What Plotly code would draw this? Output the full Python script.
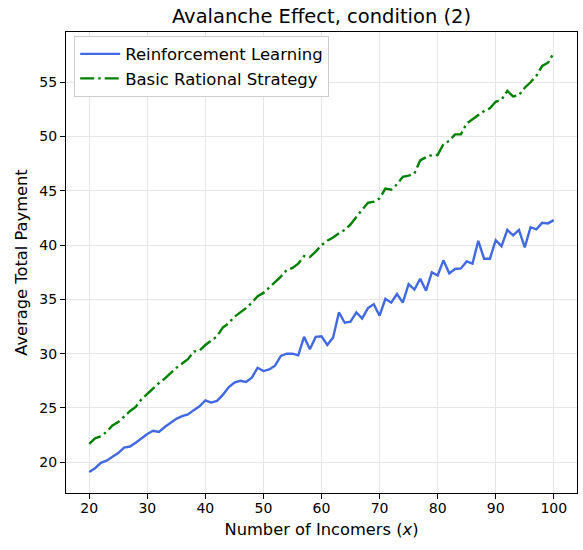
import plotly.graph_objects as go

x_vals = list(range(20, 101))

rl_payment = [
    19.1, 19.45, 19.95, 20.15, 20.5, 20.85, 21.35, 21.45, 21.8, 22.2,
    22.6, 22.9, 22.8, 23.25, 23.6, 24.0, 24.25, 24.4, 24.8, 25.15,
    25.7, 25.5, 25.65, 26.2, 26.9, 27.35, 27.5, 27.4, 27.8, 28.7,
    28.4, 28.55, 28.9, 29.8, 30.0, 30.0, 29.85, 31.55, 30.4, 31.55,
    31.6, 30.8, 31.5, 33.8, 32.85, 32.95, 33.8, 33.25, 34.2, 34.55,
    33.5, 35.05, 34.7, 35.5, 34.7, 36.4, 35.9, 36.9, 35.8, 37.5,
    37.2, 38.6, 37.4, 37.8, 37.85, 38.5, 38.3, 40.4, 38.75, 38.75,
    40.45, 39.9, 41.4, 40.9, 41.4, 39.8, 41.65, 41.45, 42.05, 42.0,
    42.3,
]

basic_payment = [
    21.7, 22.2, 22.4, 22.8, 23.4, 23.7, 24.2, 24.7, 25.1, 25.8,
    26.3, 26.8, 27.3, 27.7, 28.2, 28.7, 29.1, 29.5, 30.2, 30.3,
    30.8, 31.2, 31.6, 32.4, 32.8, 33.4, 33.8, 34.2, 34.7, 35.3,
    35.6, 36.1, 36.6, 37.1, 37.7, 37.9, 38.3, 39.0, 38.9, 39.4,
    40.0, 40.4, 40.7, 41.1, 41.4, 41.9, 42.6, 43.3, 43.9, 44.0,
    44.3, 45.2, 45.1, 45.6, 46.3, 46.4, 46.6, 47.8, 48.1, 48.3,
    48.3, 49.3, 49.6, 50.2, 50.2, 51.2, 51.6, 52.0, 52.35, 52.6,
    53.2, 53.4, 54.2, 53.7, 53.8, 54.5, 55.0, 55.6, 56.5, 56.8,
    57.7,
]

x_ticks = [20, 30, 40, 50, 60, 70, 80, 90, 100]
y_ticks = [20, 25, 30, 35, 40, 45, 50, 55]

FONT = "DejaVu Sans"
W, H = 583, 550

fig = go.Figure()
fig.add_trace(go.Scatter(
    x=x_vals, y=rl_payment, mode="lines", name="Reinforcement Learning",
    line=dict(color="#4169E1", width=2.4), legendgroup="a",
))
fig.add_trace(go.Scatter(
    x=x_vals, y=basic_payment, mode="lines", name="Basic Rational Strategy",
    line=dict(color="#008000", width=2.4, dash="14px,4px,2.5px,4px"), legendgroup="b",
))

axis_common = dict(
    showline=True, linecolor="black", linewidth=1.2, mirror=True,
    ticks="outside", ticklen=5, tickwidth=1.2, tickcolor="black",
    showgrid=True, gridcolor="#e6e6e6", gridwidth=1.2,
    zeroline=False, tickfont=dict(family=FONT, size=14, color="black"),
)

fig.update_layout(
    width=W, height=H,
    margin=dict(l=66, r=6, t=32, b=57),
    paper_bgcolor="white", plot_bgcolor="white",
    font=dict(family=FONT, color="black"),
    title=dict(
        text="Avalanche Effect, condition (2)",
        x=0.5, xref="paper", xanchor="center",
        y=1 - 16 / H, yref="container", yanchor="middle",
        font=dict(family=FONT, size=19.5, color="black"),
    ),
    xaxis=dict(
        range=[16, 104], tickvals=x_ticks, ticklabelstandoff=-3,
        title=dict(text="Number of Incomers (<i>x</i>)", font=dict(family=FONT, size=16.3), standoff=8),
        **axis_common,
    ),
    yaxis=dict(
        range=[17.17, 59.63], tickvals=y_ticks,
        title=dict(text="Average Total Payment", font=dict(family=FONT, size=16.3), standoff=7),
        **axis_common,
    ),
    legend=dict(
        x=0.016, y=0.992, xanchor="left", yanchor="top",
        bgcolor="white", bordercolor="#cccccc", borderwidth=1,
        font=dict(family=FONT, size=16.5, color="black"),
        traceorder="grouped", tracegroupgap=0, itemwidth=40,
    ),
    showlegend=True,
)

fig.write_html(
    "out.html",
    config={"displayModeBar": False},
    post_script="document.body.style.margin='0';",
)
